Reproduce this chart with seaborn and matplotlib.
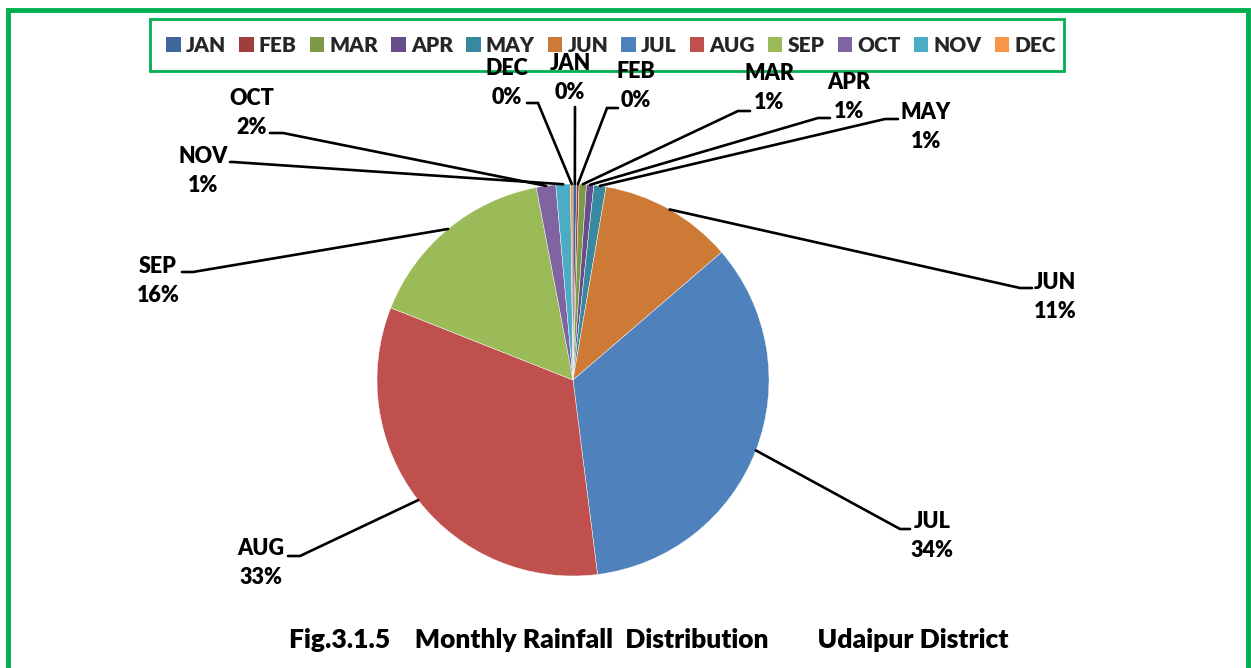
import numpy as np
import pandas as pd
import matplotlib
matplotlib.use("Agg")
import matplotlib.pyplot as plt
import seaborn as sns
from matplotlib.patches import Rectangle, Patch

# ---- data ----
months = ["JAN", "FEB", "MAR", "APR", "MAY", "JUN", "JUL", "AUG", "SEP", "OCT", "NOV", "DEC"]
rain_pct = [0.3, 0.2, 0.6, 0.6, 1.0, 11.0, 34.3, 33.0, 16.0, 1.6, 1.2, 0.2]
colors = ["#3E679C", "#A03E3B", "#7E9A48", "#674E8A", "#38899F", "#CE7A37",
          "#4F81BD", "#C0504D", "#9BBB59", "#8064A2", "#4BACC6", "#F79646"]
title = "Fig.3.1.5    Monthly Rainfall  Distribution        Udaipur District"

df = pd.DataFrame({"month": months, "rain": rain_pct})

sns.set_theme(style="white")
plt.rcParams["font.family"] = ["Lato", "DejaVu Sans"]
WT = "heavy"
plt.rcParams["font.weight"] = WT

W, H = 1251, 668
fig = plt.figure(figsize=(W / 100, H / 100), dpi=100)
fig.patch.set_facecolor("white")

# pie axes (pixel placement)
cx, cy, R = 573, 380, 196
ax = fig.add_axes([(cx - R) / W, (H - cy - R) / H, 2 * R / W, 2 * R / H])
wedges, _ = ax.pie(df["rain"], colors=colors, startangle=90, counterclock=False,
                   radius=1, wedgeprops=dict(edgecolor="white", linewidth=0.3))
ax.set_xlim(-1, 1)
ax.set_ylim(-1, 1)
ax.axis("off")

# overlay axes in pixel coords
ov = fig.add_axes([0, 0, 1, 1], zorder=5)
ov.set_xlim(0, W)
ov.set_ylim(H, 0)
ov.axis("off")
ov.patch.set_alpha(0)

green = "#00B050"
# outer frame
ov.plot([7.5, 7.5, 1248, 1248], [H + 5, 9.5, 9.5, H + 5], color=green, lw=3.5, solid_joinstyle="miter")
# legend frame
ov.add_patch(Rectangle((150, 19), 914, 52, fill=False, edgecolor=green, lw=2))

# legend
handles = [Patch(facecolor=c, edgecolor="none") for c in colors]
leg = ov.legend(handles, months, loc="center", bbox_to_anchor=(611 / W, 1 - 45 / H),
                bbox_transform=fig.transFigure, ncol=12, frameon=False,
                handlelength=0.7, handleheight=0.7, handletextpad=0.25,
                columnspacing=0.62, prop=dict(size=15, weight=WT))

# label layout: (elbow x, elbow y, end x, text center x, text center y)
layout = {
    "JAN": (575, 107, 575, 570, 78),
    "FEB": (607, 108, 618, 636, 86),
    "MAR": (738, 111, 750, 769, 88),
    "APR": (818, 118, 830, 849, 97),
    "MAY": (885, 119, 898, 926, 127),
    "JUN": (1020, 288, 1032, 1055, 297),
    "JUL": (900, 529, 910, 932, 536),
    "AUG": (300, 556, 288, 261, 563),
    "SEP": (193, 272, 182, 158, 281),
    "OCT": (283, 133, 270, 252, 113),
    "NOV": (233, 162, 230, 203, 171),
    "DEC": (538, 103, 527, 507, 83),
}
total = float(np.sum(rain_pct))
for w, m, v in zip(wedges, months, rain_pct):
    t = np.deg2rad((w.theta1 + w.theta2) / 2)
    sx, sy = cx + R * np.cos(t), cy - R * np.sin(t)
    ex, ey, hx, tx, ty = layout[m]
    ov.plot([sx, ex, hx], [sy, ey, ey], color="black", lw=1.9, solid_joinstyle="miter")
    pct = int(round(v / total * 100))
    ov.text(tx, ty, f"{m}\n{pct}%", ha="center", va="center", fontsize=15.5,
            fontweight=WT, linespacing=1.5, color="black")

ov.text(649, 640, title, ha="center", va="center", fontsize=19, fontweight=WT, color="black")

fig.savefig("out.png", dpi=100)
